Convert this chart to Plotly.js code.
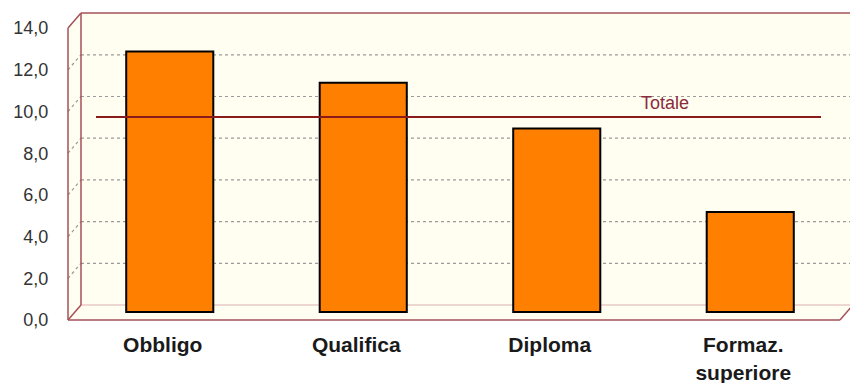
<!DOCTYPE html>
<html><head><meta charset="utf-8">
<script src="https://cdn.plot.ly/plotly-3.0.1.min.js"></script>
<style>html,body{margin:0;padding:0;background:#fff;}#chart{width:850px;height:383px;}</style>
</head><body><div id="chart"></div>
<script>
// ---- data ----
const categories = ['Obbligo', 'Qualifica', 'Diploma', 'Formaz.<br>superiore'];
const values = [12.5, 11.0, 8.8, 4.8];
const totaleLabel = 'Totale';
const totaleValue = [9.35];
const yTicks = [0, 2, 4, 6, 8, 10, 12, 14];

// ---- layout geometry (pixels) ----
const W = 850, H = 383, L = 73, R = 3, T = 12, B = 63;
const pw = W - L - R, ph = H - T - B;
const unit = 20.85;               // pixels per unit
const px = x => (x - L) / pw;     // pixel x -> paper
const py = y => (H - B - y) / ph; // pixel y -> paper
const frontY = v => 320 - v * unit;
const backY = v => 305 - v * unit;
const FL = 68, BL = 81, FR = 840, BR = 853, XR = 870;
const edge = {color: '#A5505A', width: 1.5};
const grid = {color: '#9a9a9a', width: 1.2, dash: 'dot'};

function seg(x0, y0, x1, y1, line, layer) {
  return {type: 'line', xref: 'paper', yref: 'paper',
    x0: px(x0), y0: py(y0), x1: px(x1), y1: py(y1), line: line, layer: layer || 'below'};
}

const yTop = yTicks[yTicks.length - 1];
const shapes = [];
// walls fill
const poly = [[FL, frontY(0)], [FL, frontY(yTop)], [BL, backY(yTop)], [XR, backY(yTop)], [XR, backY(0)], [BR, backY(0)], [FR, frontY(0)]];
shapes.push({type: 'path', xref: 'paper', yref: 'paper', layer: 'below',
  path: 'M ' + poly.map(p => px(p[0]) + ',' + py(p[1])).join(' L ') + ' Z',
  fillcolor: '#FFFEF1', line: {width: 0}});
// gridlines
yTicks.filter(g => g > 0 && g < yTop).forEach(g => {
  shapes.push(seg(BL, backY(g), XR, backY(g), grid));
  shapes.push(seg(FL, frontY(g), BL, backY(g), grid));
});
// floor back edge
shapes.push(seg(BL, backY(0), XR, backY(0), {color: '#DDB0B0', width: 1}));
// box edges
shapes.push(seg(FL, frontY(0), FL, frontY(yTop), edge));
shapes.push(seg(BL, backY(0), BL, backY(yTop), edge));
shapes.push(seg(FL, frontY(yTop), BL, backY(yTop), edge));
shapes.push(seg(BL, backY(yTop), XR, backY(yTop), edge));
shapes.push(seg(FL, frontY(0), BL, backY(0), edge));
shapes.push(seg(FL, frontY(0), FR, frontY(0), edge));
shapes.push(seg(FR, frontY(0), BR, backY(0), edge));
// Totale line
shapes.push({type: 'line', xref: 'paper', yref: 'y', layer: 'above',
  x0: px(96), x1: px(821), y0: totaleValue[0], y1: totaleValue[0],
  line: {color: '#8B1A1A', width: 2}});

const trace = {
  type: 'bar', x: categories, y: values, width: 0.45,
  marker: {color: '#FF8000', line: {color: '#000', width: 2}},
  hoverinfo: 'skip'
};

const layout = {
  width: W, height: H,
  margin: {l: L, r: R, t: T, b: B},
  paper_bgcolor: '#fff', plot_bgcolor: 'rgba(0,0,0,0)',
  separators: ',.',
  showlegend: false,
  font: {family: 'Liberation Sans, Arial, sans-serif'},
  xaxis: {
    type: 'category', range: [-0.5, 3.5], fixedrange: true,
    showgrid: false, zeroline: false, showline: false,
    ticks: 'outside', ticklen: 6, tickcolor: 'rgba(0,0,0,0)',
    ticklabelshift: -7,
    tickfont: {family: 'Liberation Sans, Arial, sans-serif', size: 21, weight: 'bold', color: '#1a1a1a'}
  },
  yaxis: {
    range: [-8 / unit, (312 - T) / unit], fixedrange: true,
    tickvals: yTicks, tickformat: '.1f',
    showgrid: false, zeroline: false, showline: false,
    ticks: 'outside', ticklen: 20, tickcolor: 'rgba(0,0,0,0)',
    ticklabelshift: 8,
    tickfont: {family: 'Liberation Sans, Arial, sans-serif', size: 18, color: '#333'}
  },
  shapes: shapes,
  annotations: [{
    x: px(665), xref: 'paper', xanchor: 'center', y: totaleValue[0], yref: 'y', yshift: 14,
    text: totaleLabel, showarrow: false,
    font: {family: 'Liberation Sans, Arial, sans-serif', size: 18, color: '#8B2A3A'}
  }]
};

Plotly.newPlot('chart', [trace], layout, {staticPlot: true, displayModeBar: false});
</script>
</body></html>
